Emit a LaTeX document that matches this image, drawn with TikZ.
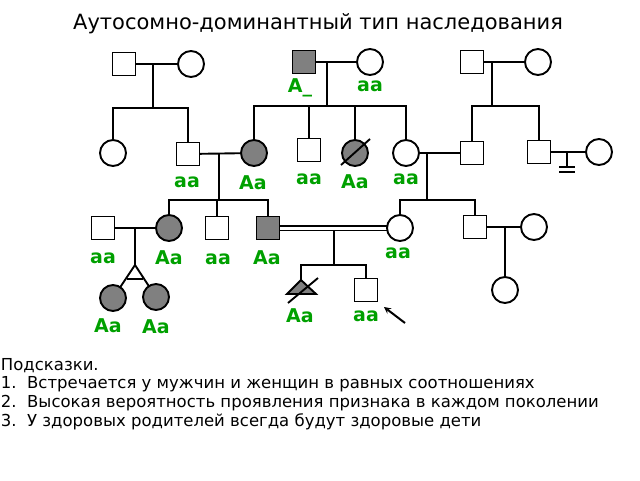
\documentclass[tikz,border=0pt]{standalone}
\usepackage{fontspec}
\setmainfont{DejaVu Sans}
\definecolor{gr}{RGB}{0,160,0}
\begin{document}
\begin{tikzpicture}[x=1pt,y=-1pt,line width=1.9pt,
 m/.style={draw,minimum size=23pt,inner sep=0,outer sep=0},
 f/.style={draw,circle,minimum size=26pt,inner sep=0,outer sep=0},
 af/.style={fill=black!50},
 g/.style={text=gr,font=\fontsize{19}{22}\selectfont\bfseries},
 lbl/.style={font=\fontsize{16.5}{19}\selectfont,anchor=west,inner sep=0}]
\useasboundingbox (0,0) rectangle (640,480);
\node[font=\fontsize{21}{25}\selectfont] (title) at (318,24) {Аутосомно-доминантный тип наследования};
% gen I
\node[m] (a1) at (124,64) {}; \node[f] (a2) at (191,64) {};
\node[m,af] (b1) at (304,62) {}; \node[f] (b2) at (370,62) {};
\node[m] (c1) at (472,62) {}; \node[f] (c2) at (538,62) {};
\draw (a1) -- (a2); \draw (b1) -- (b2); \draw (c1) -- (c2);
% gen II
\node[f] (d1) at (113,153) {}; \node[m] (d2) at (188,154) {};
\node[f,af] (d3) at (254,153) {}; \node[m] (d4) at (309,150) {};
\node[f,af] (d5) at (355,153) {}; \node[f] (d6) at (406,153) {};
\node[m] (d7) at (472,153) {}; \node[m] (d8) at (539,152) {};
\node[f] (d9) at (599,152) {};
\draw (341,165) -- (370,139);
\draw (153,64) -- (153,108); \draw (d1.north) |- (153,108) -| (d2.north);
\draw (327,62) -- (327,106); \draw (d3.north) |- (327,106) -| (d6.north);
\draw (d4.north) -- (309,106); \draw (d5.north) -- (355,106);
\draw (492,62) -- (492,106); \draw (d7.north) |- (492,106) -| (d8.north);
\draw (d2) -- (d3); \draw (d6) -- (d7); \draw (d8) -- (d9);
\draw (567,152) -- (567,167); \draw (559,167) -- (575,167); \draw (559,172) -- (575,172);
% gen III
\node[m] (e1) at (103,228) {}; \node[f,af] (e2) at (169,228) {};
\node[m] (e3) at (217,228) {}; \node[m,af] (e4) at (268,228) {};
\node[f] (e5) at (400,228) {}; \node[m] (e6) at (475,227) {};
\node[f] (e7) at (534,227) {};
\draw (219,154) -- (219,200); \draw (e2.north) |- (219,200) -| (e4.north); \draw (e3.north) -- (217,200);
\draw (427,153) -- (427,200); \draw (e5.north) |- (427,200) -| (e6.north);
\draw (e1) -- (e2); \draw (e6) -- (e7);
\draw[line width=1.4pt] ([yshift=2.2pt]e4.east) -- ([yshift=2.2pt]e5.west);
\draw[line width=1.4pt] ([yshift=-2.2pt]e4.east) -- ([yshift=-2.2pt]e5.west);
% gen IV
\node[f,af] (h1) at (113,298) {}; \node[f,af] (h2) at (156,297) {};
\coordinate (tw) at (135,265);
\draw (135,228) -- (tw); \draw (h1) -- (tw) -- (h2); \draw (127,279) -- (143,279);
\coordinate (t) at (301,280);
\draw[af] (287,294) -- (t) -- (316,294) -- cycle;
\draw (288,303) -- (318,278);
\node[m] (s) at (366,290) {};
\node[f] (k) at (505,290) {};
\draw (505,227) -- (k);
\draw (334,230) -- (334,265); \draw (t) |- (334,265) -| (s.north);
\coordinate (ar) at (405,323);
\draw[-stealth,line width=2pt] (ar) -- (384,307);
% labels
\node[g] at (300,88) {A\_}; \node[g] at (370,86) {aa};
\node[g] at (187,182) {aa}; \node[g] at (253,183) {Aa}; \node[g] at (309,179) {aa};
\node[g] at (355,182) {Aa}; \node[g] at (406,179) {aa};
\node[g] at (103,258) {aa}; \node[g] at (169,258) {Aa}; \node[g] at (218,259) {aa};
\node[g] at (267,258) {Aa}; \node[g] at (398,253) {aa};
\node[g] at (300,316) {Aa}; \node[g] at (366,316) {aa};
\node[g] at (108,326) {Aa}; \node[g] at (156,327) {Aa};
\node[lbl] at (0,366) {Подсказки.};
\node[lbl] at (0,384) {1.\ \ Встречается у мужчин и женщин в равных соотношениях};
\node[lbl] at (0,403) {2.\ \ Высокая вероятность проявления признака в каждом поколении};
\node[lbl] at (0,422) {3.\ \ У здоровых родителей всегда будут здоровые дети};
\end{tikzpicture}
\end{document}
